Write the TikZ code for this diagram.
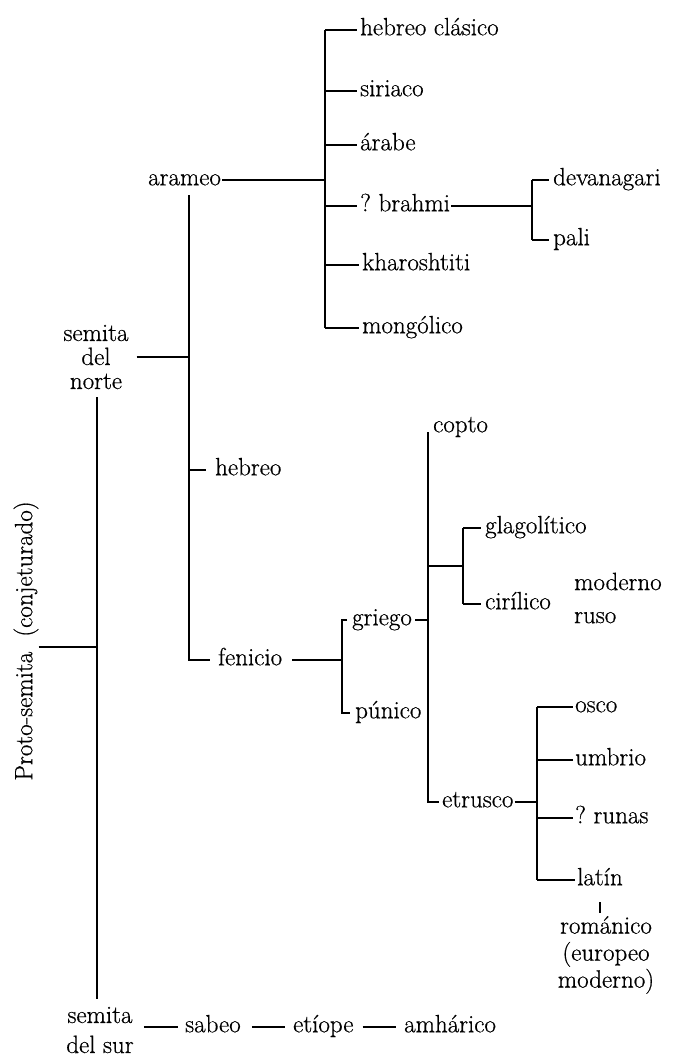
\documentclass[tikz,border=0pt]{standalone}
\usepackage{fontspec}
\setmainfont{Latin Modern Roman}[FakeBold=0.6]
\usetikzlibrary{calc}
\begin{document}
\begin{tikzpicture}[x=1pt,y=-1pt,
  lab/.style={anchor=west, inner sep=0pt, text height=10.5pt, text depth=0pt, font=\fontsize{25}{29}\selectfont},
  multi/.style={inner sep=0pt, align=center, font=\fontsize{25}{24}\selectfont},
  ln/.style={line width=1.7pt},
]
\useasboundingbox (0,0) rectangle (673,1060);
% labels
\node[lab] (hcl) at (360,30) {hebreo clásico};
\node[lab] (sir) at (360,91) {siriaco};
\node[lab] (arab) at (360,145) {árabe};
\node[lab] (brahmi) at (360,206) {?\ brahmi};
\node[lab] (khar) at (362,265) {kharoshtiti};
\node[lab] (mong) at (362,328) {mongólico};
\node[lab] (arameo) at (148,180) {arameo};
\node[lab] (dev) at (553,180) {devanagari};
\node[lab] (pali) at (553,240) {pali};
\node[multi] (norte) at (96,357) {semita\\del\\norte};
\node[lab] (hebreo) at (215,470) {hebreo};
\node[lab] (fenicio) at (218,660) {fenicio};
\node[lab] (griego) at (352,620) {griego};
\node[lab] (punico) at (355,713) {púnico};
\node[lab] (copto) at (433,427) {copto};
\node[lab] (glag) at (485,528) {glagolítico};
\node[lab] (ciril) at (485,604) {cirílico};
\node[multi, align=left, anchor=west, font=\fontsize{25}{33}\selectfont] (ruso) at (574,598) {moderno\\ruso};
\node[lab] (etrusco) at (442,802) {etrusco};
\node[lab] (osco) at (575,707) {osco};
\node[lab] (umbrio) at (575,760) {umbrio};
\node[lab] (runas) at (575,818) {?\ runas};
\node[lab] (latin) at (577,880) {latín};
\node[multi, font=\fontsize{25}{27}\selectfont] (romanico) at (606,955) {románico\\(europeo\\moderno)};
\node[multi, rotate=90] (proto) at (26,641) {Proto-semita\ \ (conjeturado)};
\node[multi, font=\fontsize{25}{30}\selectfont] (sur) at (100,1030) {semita\\del sur};
\node[lab] (sabeo) at (185,1027) {sabeo};
\node[lab] (etiope) at (293,1027) {etíope};
\node[lab] (amh) at (404,1027) {amhárico};
% bar positions
\coordinate (xA) at (325,0);
\coordinate (xB) at (532,0);
\coordinate (xN) at (189,0);
\coordinate (xF) at (342,0);
\coordinate (xG) at (428,0);
\coordinate (xC) at (463,0);
\coordinate (xE) at (537,0);
\coordinate (root) at (97,647);
% arameo group
\draw[ln] (hcl.west -| xA) -- (mong.west -| xA);
\foreach \n in {hcl,sir,arab,brahmi,khar,mong} \draw[ln, shorten >=3pt] (\n.west -| xA) -- (\n.west);
\draw[ln, shorten <=1pt] (arameo.east) -- (arameo.east -| xA);
% brahmi group
\draw[ln] (dev.west -| xB) -- (pali.west -| xB);
\foreach \n in {dev,pali} \draw[ln, shorten >=4pt] (\n.west -| xB) -- (\n.west);
\draw[ln, shorten <=1pt] (brahmi.east) -- (brahmi.east -| xB);
% semita del norte group
\draw[ln] ($(arameo.west -| xN)+(0,15)$) -- (fenicio.west -| xN) -- ([xshift=-8pt]fenicio.west);
\draw[ln, shorten <=8pt] (norte.east) -- (norte.east -| xN);
\draw[ln, shorten >=9pt] (hebreo.west -| xN) -- (hebreo.west);
% fenicio group
\draw[ln, shorten <=10pt] (fenicio.east) -- (fenicio.east -| xF);
\draw[ln] ([xshift=-5pt]griego.west) -- (griego.west -| xF) -- (punico.west -| xF) -- ([xshift=-5pt]punico.west);
% griego group
\draw[ln, shorten <=3pt] (griego.east) -- (griego.east -| xG);
\draw[ln] ($(copto.west -| xG)+(0,5)$) -- (etrusco.west -| xG) -- ([xshift=-3pt]etrusco.west);
% cyrillic group
\coordinate (cj) at ($(glag.west -| xC)!0.5!(ciril.west -| xC)$);
\draw[ln] (cj -| xG) -- (cj);
\draw[ln] (glag.west -| xC) -- (ciril.west -| xC);
\foreach \n in {glag,ciril} \draw[ln, shorten >=4pt] (\n.west -| xC) -- (\n.west);
% etrusco group
\draw[ln, shorten <=1pt] (etrusco.east) -- (etrusco.east -| xE);
\draw[ln] (osco.west -| xE) -- (latin.west -| xE);
\foreach \n in {osco,umbrio,runas,latin} \draw[ln, shorten >=2pt] (\n.west -| xE) -- (\n.west);
\draw[ln, shorten <=17pt, shorten >=3pt] (latin.south) -- (latin.south |- romanico.north);
% root
\draw[ln] (proto.south |- root) -- (root);
\draw[ln] ($(norte.south -| root)+(0,8)$) -- ($(sur.north -| root)+(0,-8)$);
% semita del sur chain
\draw[ln, shorten <=10pt, shorten >=7pt] (sur.east |- sabeo.west) -- (sabeo.west);
\draw[ln, shorten <=11pt, shorten >=8pt] (sabeo.east) -- (etiope.west);
\draw[ln, shorten <=9pt, shorten >=8pt] (etiope.east) -- (amh.west);
\end{tikzpicture}
\end{document}
